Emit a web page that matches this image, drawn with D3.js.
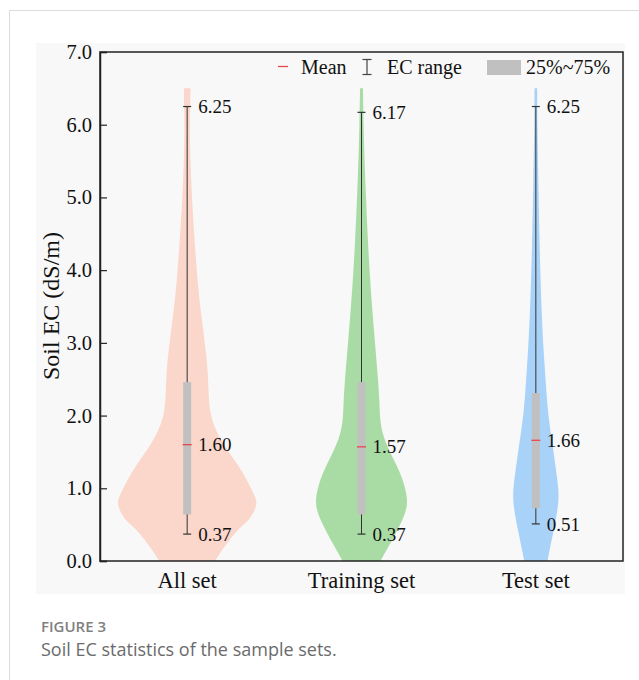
<!DOCTYPE html>
<html>
<head>
<meta charset="utf-8">
<script src="https://cdn.jsdelivr.net/npm/d3@7/dist/d3.min.js"></script>
<style>
  html, body { margin: 0; padding: 0; background: #ffffff; }
  svg { display: block; }
</style>
</head>
<body>
<svg id="chart" width="639" height="680"></svg>
<script>
// ---------- data ----------
const categories = ["All set", "Training set", "Test set"];
const maxValues  = [6.25, 6.17, 6.25];
const minValues  = [0.37, 0.37, 0.51];
const meanValues = [1.60, 1.57, 1.66];
const q1Values   = [0.64, 0.64, 0.725];
const q3Values   = [2.46, 2.46, 2.31];
const yTicks     = [0, 1, 2, 3, 4, 5, 6, 7];
const legendLabels = ["Mean", "EC range", "25%~75%"];

// relative kernel density profiles [value, density]
const densityAll = [
  [6.5,0.046],[6.2,0.043],[5.9,0.037],[5.47,0.047],[5.01,0.067],[4.55,0.096],
  [4.09,0.129],[3.64,0.167],[3.18,0.229],[2.95,0.257],[2.72,0.286],[2.49,0.300],
  [2.26,0.307],[2.03,0.326],[1.80,0.404],[1.57,0.536],[1.34,0.714],[1.11,0.857],
  [0.88,0.975],[0.79,1.0],[0.66,0.950],[0.52,0.843],[0.43,0.714],[0.20,0.536],
  [0.0,0.393],[-0.2,0.286]
];
const densityTrain = [
  [6.5,0.021],[6.0,0.029],[5.5,0.043],[5.0,0.064],[4.5,0.086],[4.0,0.114],
  [3.5,0.150],[3.0,0.193],[2.5,0.236],[2.2,0.257],[1.94,0.264],[1.75,0.300],
  [1.57,0.371],[1.40,0.457],[1.25,0.536],[1.05,0.614],[0.84,0.660],[0.70,0.640],
  [0.56,0.586],[0.29,0.443],[0.01,0.271],[-0.2,0.171]
];
const densityTest = [
  [6.5,0.019],[6.0,0.021],[5.24,0.036],[4.32,0.053],[3.41,0.083],[2.95,0.107],
  [2.49,0.139],[2.03,0.171],[1.57,0.243],[1.11,0.310],[0.88,0.333],[0.66,0.303],
  [0.43,0.257],[0.20,0.207],[0.01,0.167],[-0.2,0.129]
];
const densities = [densityAll, densityTrain, densityTest];
const violinColors = ["#fbd6ca", "#a9dca5", "#a9d2f8"];

// ---------- layout ----------
const svg = d3.select("#chart");
const M = { left: 100, top: 52, right: 623, bottom: 561 };
const serif = "'Liberation Serif', 'Times New Roman', serif";
const sans = "'Open Sans', 'Noto Sans', sans-serif";

// card frame
svg.append("line").attr("x1", 9.5).attr("y1", 10.5).attr("x2", 639).attr("y2", 10.5)
  .attr("stroke", "#dcdcdc").attr("stroke-width", 1);
svg.append("line").attr("x1", 9.5).attr("y1", 10.5).attr("x2", 9.5).attr("y2", 680)
  .attr("stroke", "#dcdcdc").attr("stroke-width", 1);

// chart panel background
svg.append("rect").attr("x", 36).attr("y", 43).attr("width", 589).attr("height", 551)
  .attr("fill", "#f8f8f8");

const y = d3.scaleLinear().domain([0, 7]).range([M.bottom, M.top]);
const x = d3.scaleBand().domain(categories).range([M.left, M.right]);
const w = d3.scaleLinear().domain([0, 1]).range([0, 70]);

svg.append("defs").append("clipPath").attr("id", "plotclip")
  .append("rect").attr("x", M.left).attr("y", M.top)
  .attr("width", M.right - M.left).attr("height", M.bottom - M.top);

const plot = svg.append("g").attr("clip-path", "url(#plotclip)");

categories.forEach((c, i) => {
  const cx = x(c) + x.bandwidth() / 2;
  const area = d3.area()
    .y(d => y(d[0]))
    .x0(d => cx - w(d[1]))
    .x1(d => cx + w(d[1]))
    .curve(d3.curveBasis);
  plot.append("path").datum(densities[i]).attr("d", area)
    .attr("fill", violinColors[i]).attr("stroke", "none");

  // whisker (EC range)
  plot.append("line").attr("x1", cx).attr("x2", cx)
    .attr("y1", y(maxValues[i])).attr("y2", y(minValues[i]))
    .attr("stroke", "#333").attr("stroke-width", 1);
  [maxValues[i], minValues[i]].forEach(v => {
    plot.append("line").attr("x1", cx - 4).attr("x2", cx + 4)
      .attr("y1", y(v)).attr("y2", y(v))
      .attr("stroke", "#333").attr("stroke-width", 1.2);
  });
  // IQR box
  plot.append("rect").attr("x", cx - 4).attr("width", 8)
    .attr("y", y(q3Values[i])).attr("height", y(q1Values[i]) - y(q3Values[i]))
    .attr("fill", "#c0c0c0");
  // mean
  plot.append("line").attr("x1", cx - 4.5).attr("x2", cx + 4.5)
    .attr("y1", y(meanValues[i])).attr("y2", y(meanValues[i]))
    .attr("stroke", "#e8474a").attr("stroke-width", 1.3);

  // value labels
  [maxValues[i], meanValues[i], minValues[i]].forEach(v => {
    svg.append("text").attr("x", cx + 11).attr("y", y(v)).attr("dy", "0.35em")
      .attr("font-family", serif).attr("font-size", 19).attr("fill", "#111")
      .text(v.toFixed(2));
  });

  // category label
  svg.append("text").attr("x", cx).attr("y", 588).attr("text-anchor", "middle")
    .attr("font-family", serif).attr("font-size", 22.5).attr("fill", "#111")
    .text(c);
});

// frame
svg.append("rect").attr("x", M.left).attr("y", M.top)
  .attr("width", M.right - M.left).attr("height", M.bottom - M.top)
  .attr("fill", "none").attr("stroke", "#222").attr("stroke-width", 1.5);

// y axis
const yAxis = d3.axisLeft(y).tickValues(yTicks).tickFormat(d3.format(".1f"))
  .tickSize(-7).tickPadding(8);
const ga = svg.append("g").attr("transform", `translate(${M.left},0)`).call(yAxis);
ga.select(".domain").attr("stroke", "#222").attr("stroke-width", 1.5);
ga.selectAll(".tick line").attr("stroke", "#222").attr("stroke-width", 1.2);
ga.selectAll(".tick text").attr("font-family", serif).attr("font-size", 20.5).attr("fill", "#111");

// y title
svg.append("text").attr("transform", "translate(59,306) rotate(-90)")
  .attr("text-anchor", "middle").attr("font-family", serif).attr("font-size", 24)
  .attr("fill", "#111").text("Soil EC (dS/m)");

// legend
const lg = svg.append("g");
lg.append("line").attr("x1", 278).attr("x2", 288).attr("y1", 66.5).attr("y2", 66.5)
  .attr("stroke", "#e8474a").attr("stroke-width", 1.3);
lg.append("text").attr("x", 301).attr("y", 74).attr("font-family", serif)
  .attr("font-size", 20).attr("fill", "#111").text(legendLabels[0]);
lg.append("line").attr("x1", 367).attr("x2", 367).attr("y1", 59.5).attr("y2", 74.5)
  .attr("stroke", "#444").attr("stroke-width", 1.2);
lg.append("line").attr("x1", 362.5).attr("x2", 371.5).attr("y1", 59.5).attr("y2", 59.5)
  .attr("stroke", "#444").attr("stroke-width", 1.2);
lg.append("line").attr("x1", 362.5).attr("x2", 371.5).attr("y1", 74.5).attr("y2", 74.5)
  .attr("stroke", "#444").attr("stroke-width", 1.2);
lg.append("text").attr("x", 387).attr("y", 74).attr("font-family", serif)
  .attr("font-size", 20).attr("fill", "#111").text(legendLabels[1]);
lg.append("rect").attr("x", 487).attr("y", 60).attr("width", 34).attr("height", 15)
  .attr("fill", "#c0c0c0");
lg.append("text").attr("x", 526).attr("y", 74).attr("font-family", serif)
  .attr("font-size", 20).attr("fill", "#111").text(legendLabels[2]);

// caption
svg.append("text").attr("x", 41).attr("y", 632).attr("font-family", sans)
  .attr("font-size", 15).attr("font-weight", 600).attr("fill", "#808080").text("FIGURE 3");
svg.append("text").attr("x", 41).attr("y", 656).attr("font-family", sans)
  .attr("font-size", 18).attr("fill", "#6b6b6b").text("Soil EC statistics of the sample sets.");
</script>
</body>
</html>
